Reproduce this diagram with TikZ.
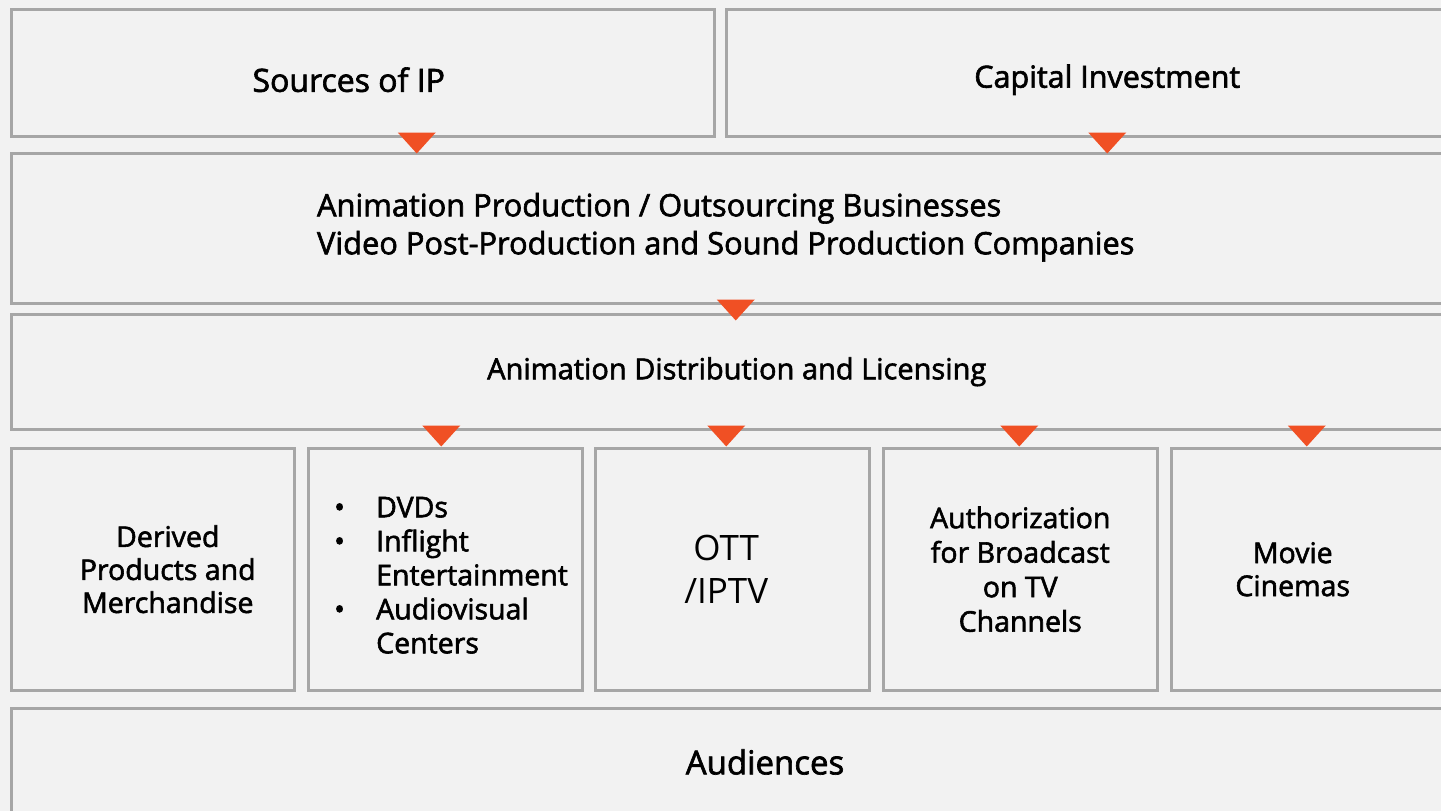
\documentclass[tikz,border=0pt]{standalone}
\usepackage{fontspec}
\setmainfont{Open Sans}[FakeBold=2]
\newfontfamily\plainfont{Open Sans}
\usetikzlibrary{calc}

\definecolor{boxfill}{RGB}{242,242,242}
\definecolor{boxline}{RGB}{166,166,166}
\definecolor{triorange}{RGB}{240,80,36}

\tikzset{
  box/.style={draw=boxline, line width=2.5pt, fill=boxfill, inner sep=0pt,
    anchor=north west, align=center},
  txt/.style={inner sep=0pt, align=center},
  flowtri/.style={fill=triorange},
}
% orange marker under a box border
\newcommand{\flowmark}[2][0]{\fill[flowtri] ($(#2)+(#1-19,-5)$) -- ++(38,0) -- ++(-19,21) -- cycle;}

\begin{document}
\begin{tikzpicture}[x=1pt,y=-1pt]
  \useasboundingbox (0,0) rectangle (1441,811);
  \clip (0,0) rectangle (1441,811);
  \fill[boxfill] (0,0) rectangle (1441,811);

  % Top row
  \node[box, minimum width=703, minimum height=127] (src) at (10,8) {};
  \node[txt, font=\fontsize{32}{38}\selectfont] (src-t) at ([xshift=-14,yshift=-7]src.center) {Sources of IP};
  \node[box, minimum width=718, minimum height=127] (cap) at (725,8) {};
  \node[txt, font=\fontsize{30.5}{36}\selectfont] (cap-t) at ([xshift=22,yshift=-7]cap.center) {Capital Investment};

  % Production
  \node[box, minimum width=1433, minimum height=150] (prod) at (10,152) {};
  \node[txt, align=left, font=\fontsize{30.8}{38}\selectfont] (prod-t) at ([xshift=-2,yshift=1]prod.center)
    {Animation Production / Outsourcing Businesses\\Video Post-Production and Sound Production Companies};

  % Distribution
  \node[box, minimum width=1433, minimum height=115] (dist) at (10,313) {};
  \node[txt, font=\fontsize{29}{34}\selectfont] (dist-t) at ([xshift=9]dist.center)
    {Animation Distribution and Licensing};

  % Channels
  \node[box, minimum width=283, minimum height=242] (merch) at (10,447) {};
  \node[txt, font=\fontsize{28.5}{33}\selectfont] (merch-t) at ([xshift=15]merch.center)
    {Derived\\Products and\\Merchandise};
  \node[box, minimum width=274, minimum height=242] (dvd) at (307,447) {};
  \node[txt, align=left, anchor=west, font=\fontsize{28.5}{34}\selectfont] (dvd-t) at ([xshift=27,yshift=-6]dvd.west)
    {\makebox[42pt][l]{\textbullet}DVDs\\
     \makebox[42pt][l]{\textbullet}Inflight\\
     \makebox[42pt][l]{}Entertainment\\
     \makebox[42pt][l]{\textbullet}Audiovisual\\
     \makebox[42pt][l]{}Centers};
  \node[box, minimum width=274, minimum height=242] (ott) at (594,447) {};
  \node[txt, font=\plainfont\fontsize{35}{43}\selectfont] (ott-t) at ([xshift=-6]ott.center)
    {OTT\\/IPTV};
  \node[box, minimum width=274, minimum height=242, font=\fontsize{28.5}{34.5}\selectfont] (tv) at (882,447)
    {Authorization\\for Broadcast\\on TV\\Channels};
  \node[box, minimum width=273, minimum height=242] (cinema) at (1170,447) {};
  \node[txt, font=\fontsize{28.5}{33}\selectfont] (cinema-t) at ([xshift=-15]cinema.center)
    {Movie\\Cinemas};

  % Audiences
  \node[box, minimum width=1433, minimum height=110] (aud) at (10,707) {};
  \node[txt, font=\fontsize{33}{38}\selectfont] (aud-t) at (765,762) {Audiences};

  % Flow markers
  \flowmark[54]{src.south}
  \flowmark[22]{cap.south}
  \flowmark[8]{prod.south}
  \flowmark[-4]{dist.south -| dvd.north}
  \flowmark[-6]{dist.south -| ott.north}
  \flowmark[-1]{dist.south -| tv.north}
  \flowmark[-1]{dist.south -| cinema.north}
\end{tikzpicture}
\end{document}
